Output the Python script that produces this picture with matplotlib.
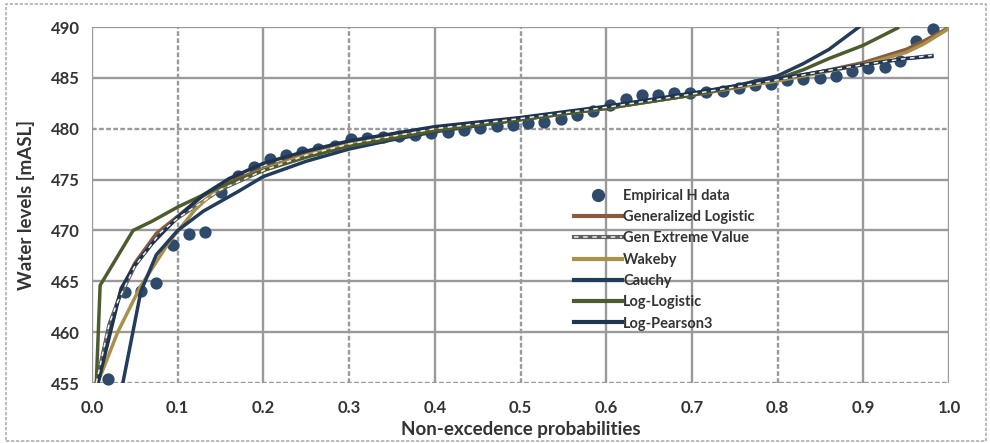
import matplotlib
matplotlib.use("Agg")
import matplotlib.pyplot as plt
from matplotlib.patches import Rectangle
from matplotlib.lines import Line2D

plt.rcParams['font.family'] = ['Lato', 'DejaVu Sans']

# ---- data ----
p_emp = [0.019, 0.038, 0.057, 0.075, 0.094, 0.113, 0.132, 0.151, 0.170, 0.189,
         0.208, 0.226, 0.245, 0.264, 0.283, 0.302, 0.321, 0.340, 0.358, 0.377,
         0.396, 0.415, 0.434, 0.453, 0.472, 0.491, 0.509, 0.528, 0.547, 0.566,
         0.585, 0.604, 0.623, 0.642, 0.660, 0.679, 0.698, 0.717, 0.736, 0.755,
         0.774, 0.792, 0.811, 0.830, 0.849, 0.868, 0.887, 0.906, 0.925, 0.943,
         0.962, 0.981]
h_emp = [455.4, 463.9, 464.0, 464.8, 468.6, 469.6, 469.8, 473.8, 475.4, 476.2,
         477.0, 477.4, 477.7, 478.0, 478.3, 479.0, 479.1, 479.2, 479.3, 479.4,
         479.55, 479.7, 479.9, 480.05, 480.25, 480.4, 480.6, 480.65, 481.0, 481.3,
         481.7, 482.3, 482.9, 483.3, 483.3, 483.5, 483.5, 483.6, 483.7, 484.0,
         484.3, 484.4, 484.8, 484.9, 485.0, 485.2, 485.7, 486.0, 486.1, 486.7,
         488.6, 489.8]

p_glo = [0.006, 0.02, 0.034, 0.05, 0.075, 0.1, 0.126, 0.15, 0.2, 0.25, 0.3, 0.4,
         0.5, 0.6, 0.7, 0.8, 0.85, 0.9, 0.95, 0.97, 0.999]
h_glo = [455.0, 460.5, 464.1, 466.8, 469.7, 471.4, 473.2, 474.4, 476.1, 477.5,
         478.6, 480.0, 480.9, 482.0, 483.3, 484.8, 485.6, 486.5, 487.8, 488.6, 489.9]

p_gev = [0.005, 0.02, 0.03, 0.05, 0.08, 0.1, 0.15, 0.2, 0.25, 0.3, 0.4, 0.5,
         0.6, 0.7, 0.8, 0.85, 0.9, 0.95, 0.98]
h_gev = [455.0, 460.8, 463.0, 466.5, 469.8, 471.2, 474.0, 475.9, 477.4, 478.5,
         480.0, 481.0, 482.1, 483.4, 484.8, 485.6, 486.3, 486.9, 487.2]

p_wak = [0.0066, 0.03, 0.056, 0.091, 0.12, 0.145, 0.2, 0.25, 0.3, 0.4, 0.5,
         0.6, 0.7, 0.8, 0.85, 0.9, 0.95, 0.97, 0.999]
h_wak = [455.0, 460.0, 464.4, 469.0, 472.0, 474.0, 476.0, 477.4, 478.5, 480.0,
         480.9, 482.0, 483.3, 484.7, 485.5, 486.3, 487.5, 488.3, 489.8]

p_cau = [0.036, 0.057, 0.075, 0.1, 0.13, 0.17, 0.2, 0.25, 0.3, 0.35, 0.4, 0.5,
         0.6, 0.7, 0.75, 0.8, 0.83, 0.86, 0.895]
h_cau = [455.0, 464.0, 467.6, 470.0, 471.9, 473.8, 475.3, 476.8, 478.0, 478.9,
         479.7, 480.9, 482.1, 483.4, 484.2, 485.2, 486.4, 487.8, 490.0]

p_llo = [0.005, 0.0095, 0.048, 0.07, 0.1, 0.15, 0.2, 0.25, 0.3, 0.4, 0.5, 0.6,
         0.7, 0.8, 0.83, 0.86, 0.9, 0.94]
h_llo = [455.0, 464.6, 470.0, 470.9, 472.3, 474.3, 475.9, 477.2, 478.3, 479.8,
         480.9, 482.0, 483.3, 484.9, 485.8, 486.9, 488.2, 489.9]

p_lp3 = [0.007, 0.034, 0.05, 0.07, 0.1, 0.13, 0.16, 0.2, 0.25, 0.3, 0.4, 0.5,
         0.6, 0.7, 0.8, 0.9, 0.95, 0.98]
h_lp3 = [455.0, 464.3, 466.6, 468.7, 471.3, 473.5, 475.1, 476.6, 477.8, 478.8,
         480.2, 481.1, 482.2, 483.5, 484.9, 486.3, 486.9, 487.1]

labels = ["Empirical H data", "Generalized Logistic", "Gen Extreme Value",
          "Wakeby", "Cauchy", "Log-Logistic", "Log-Pearson3"]
x_ticks = [0.0, 0.1, 0.2, 0.3, 0.4, 0.5, 0.6, 0.7, 0.8, 0.9, 1.0]
y_ticks = [455, 460, 465, 470, 475, 480, 485, 490]

# ---- figure ----
fig = plt.figure(figsize=(9.9, 4.43), dpi=100)
ax = fig.add_axes([92/990, 1-383/443, (949-92)/990, (383-27)/443])
ax.set_xlim(0, 1)
ax.set_ylim(455, 490)

gridc = '#9a9a9a'
dashed_x = [0.1, 0.3, 0.5, 0.8]
for xv in x_ticks:
    ls = (0, (2, 1)) if xv in dashed_x else '-'
    ax.axvline(xv, color=gridc, lw=1.7, ls=ls, zorder=1)
for yv in y_ticks:
    ls = (0, (2, 1)) if yv in (455, 480) else '-'
    ax.axhline(yv, color=gridc, lw=1.7, ls=ls, zorder=1)
for s in ax.spines.values():
    s.set_visible(False)

c_dot = '#2f4b6c'
ax.scatter(p_emp, h_emp, s=78, color=c_dot, zorder=2, linewidths=0, clip_on=False)

lw = 2.5
l_glo, = ax.plot(p_glo, h_glo, color='#8b5a3c', lw=lw, zorder=3)
l_gev, = ax.plot(p_gev, h_gev, color='#5e5e5e', lw=lw, zorder=3)
l_gev2, = ax.plot(p_gev, h_gev, color='#f4efe2', lw=1.1, ls=(0, (3, 3)), zorder=3.5)
l_wak, = ax.plot(p_wak, h_wak, color='#a8914a', lw=lw, zorder=3)
l_cau, = ax.plot(p_cau, h_cau, color='#243c5c', lw=lw, zorder=3)
l_llo, = ax.plot(p_llo, h_llo, color='#4d5c2f', lw=lw, zorder=3)
l_lp3, = ax.plot(p_lp3, h_lp3, color='#1f3452', lw=lw, zorder=3)

ax.set_xticks(x_ticks)
ax.set_yticks(y_ticks)
ax.set_xticklabels([f"{v:.1f}" for v in x_ticks])
ax.set_yticklabels([str(v) for v in y_ticks])
ax.tick_params(axis='x', length=0, labelsize=12, labelcolor='#333333', pad=12)
ax.tick_params(axis='y', length=0, labelsize=12, labelcolor='#333333', pad=9)
for t in ax.get_xticklabels() + ax.get_yticklabels():
    t.set_fontweight('bold')

ax.set_xlabel("Non-excedence probabilities", fontsize=13.5, fontweight='bold',
              color='#333333', labelpad=4)
ax.set_ylabel("Water levels [mASL]", fontsize=13.5, fontweight='bold',
              color='#333333', labelpad=11)

dot_handle = Line2D([], [], ls='none', marker='o', markersize=8.5, color=c_dot)
handles = [dot_handle, l_glo, (l_gev, l_gev2), l_wak, l_cau, l_llo, l_lp3]
leg = ax.legend(handles, labels, loc='upper left', bbox_to_anchor=(0.556, 0.562),
                frameon=False, handlelength=3.3, handletextpad=0.05,
                labelspacing=0.5, prop={'weight': 'bold', 'size': 10.5},
                borderaxespad=0)
for t in leg.get_texts():
    t.set_color('#333333')
for lh in leg.get_lines():
    lh.set_linewidth(3.0)

# outer frame
fig.patches.append(Rectangle((6/990, 2/443), 980/990, 437/443, transform=fig.transFigure,
                             fill=False, edgecolor='#b0b0b0', lw=1.2, ls=(0, (2, 1))))

fig.savefig("out.png", dpi=100)
